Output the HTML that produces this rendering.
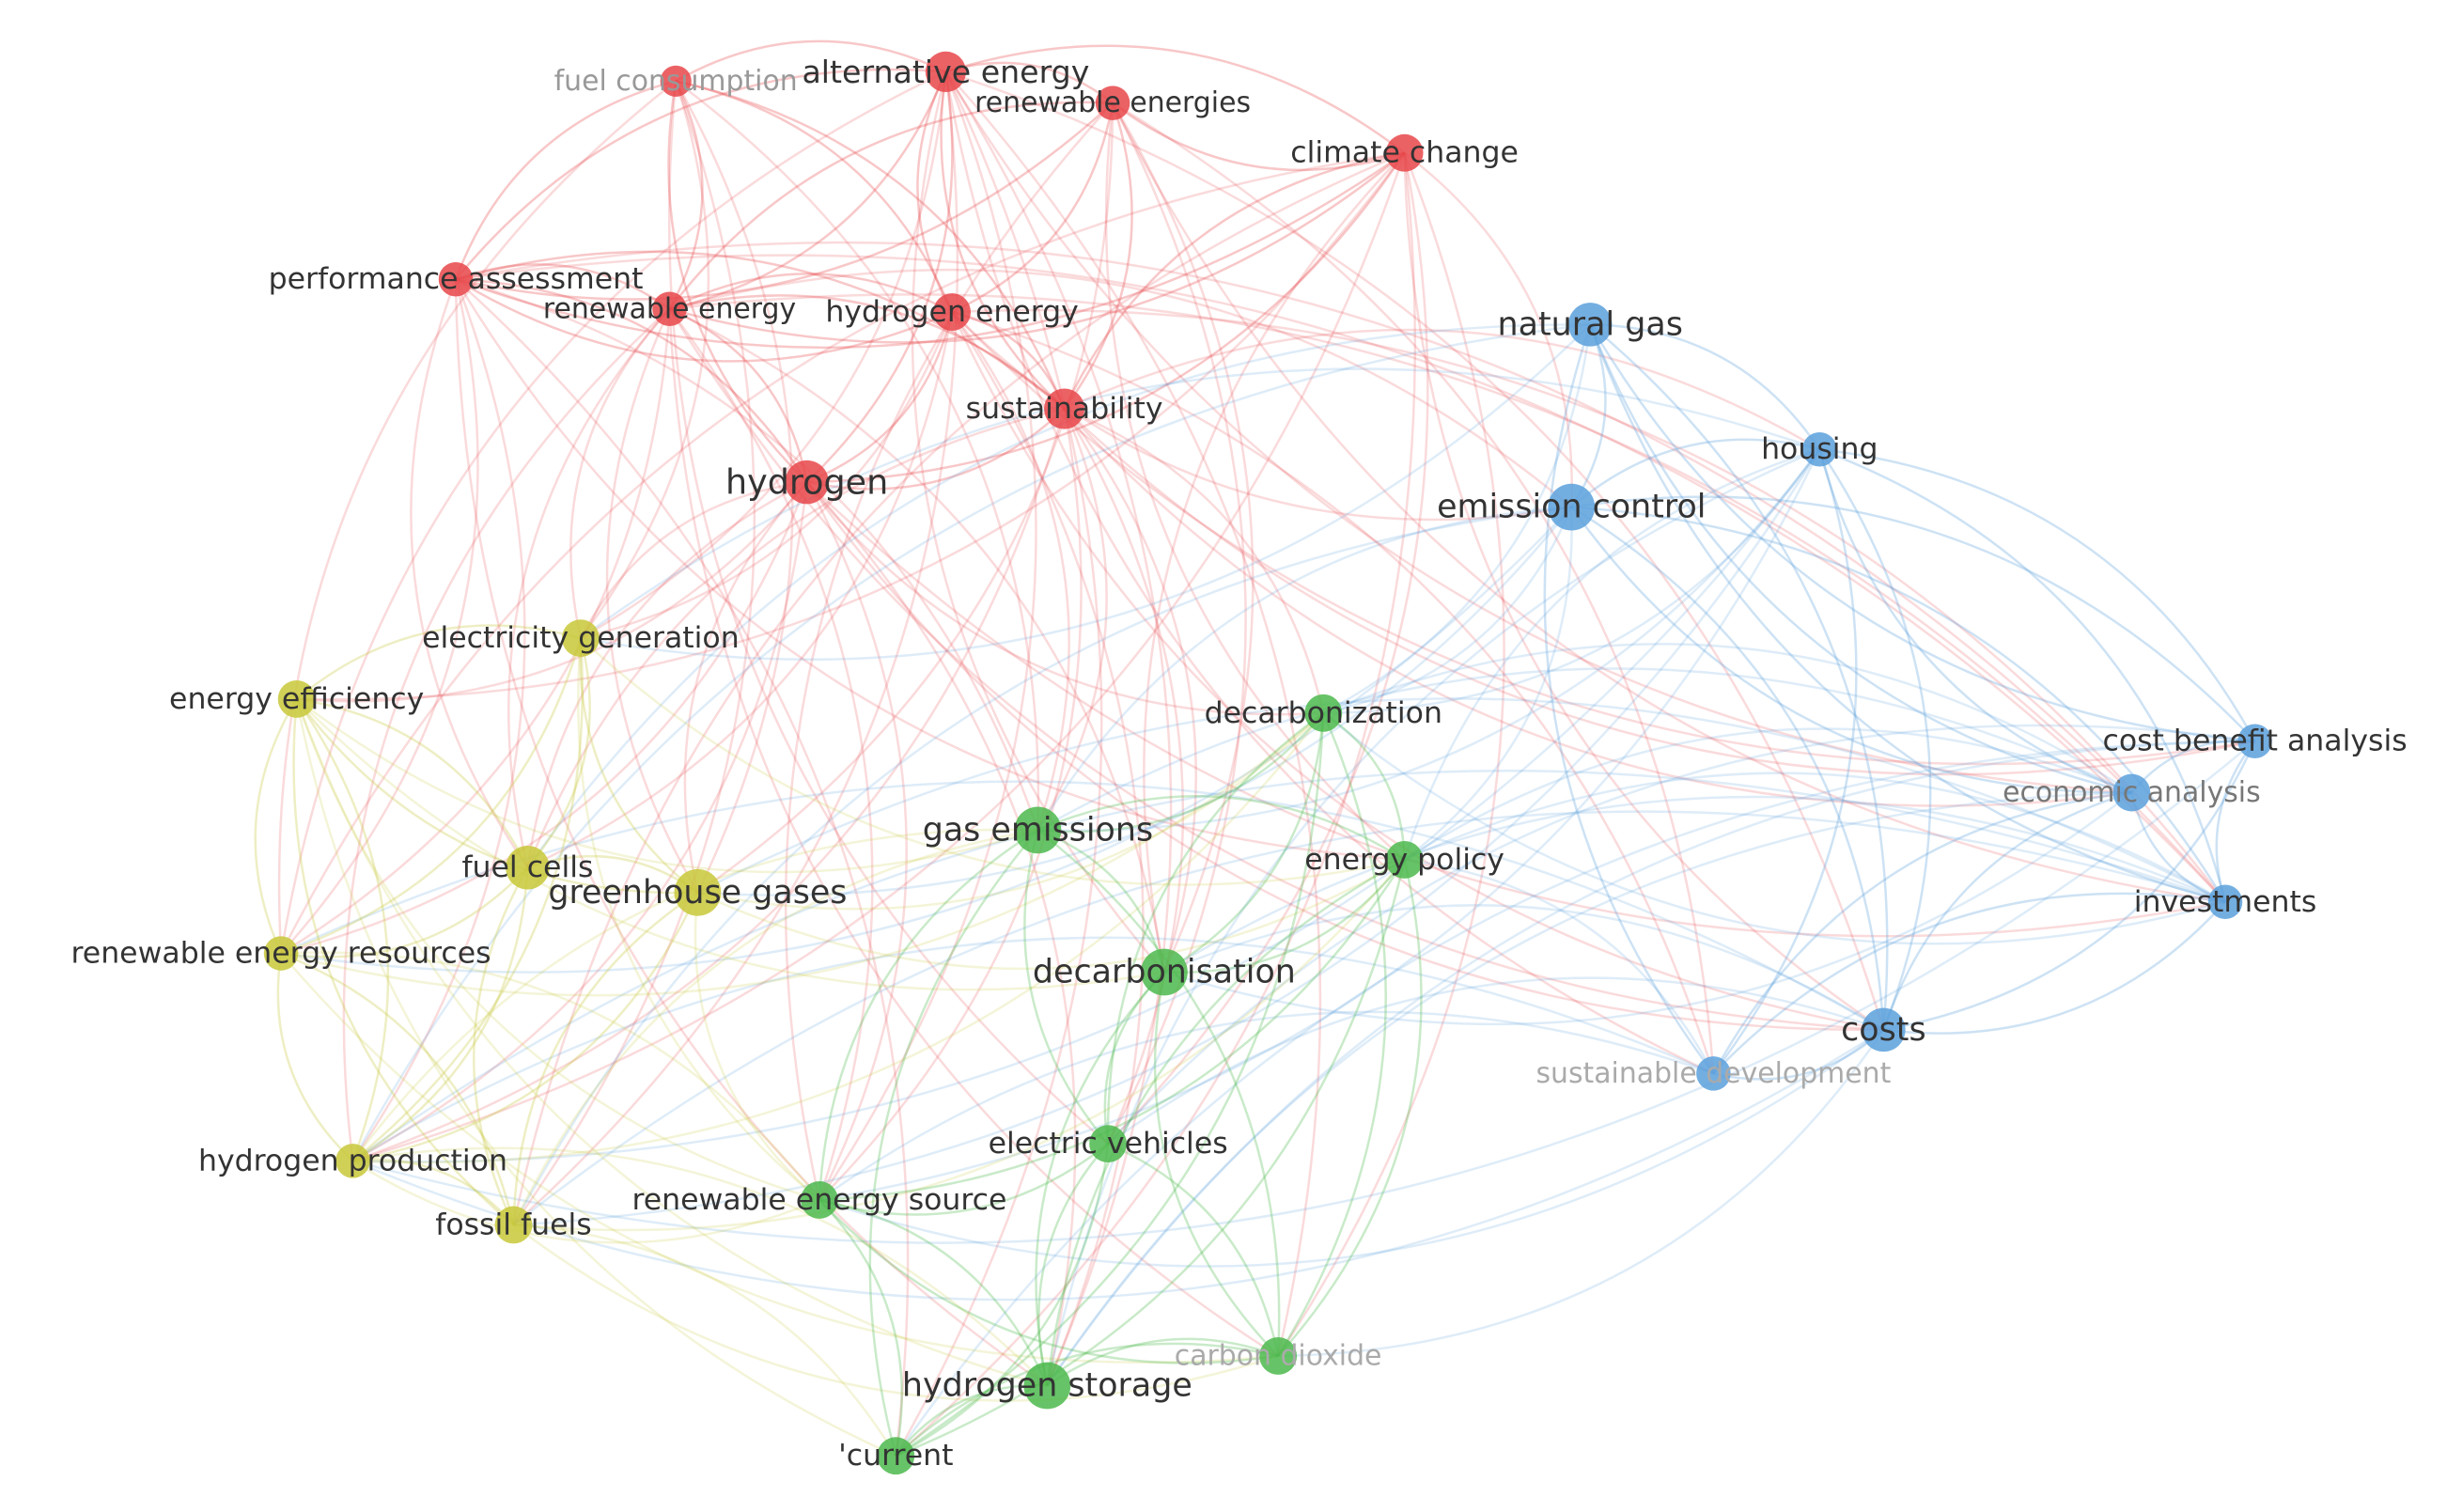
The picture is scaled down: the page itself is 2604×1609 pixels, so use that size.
<!DOCTYPE html>
<html><head><meta charset="utf-8">
<style>
html,body{margin:0;padding:0;background:#fff;}
svg{display:block;}
text{font-family:"DejaVu Sans","Liberation Sans",sans-serif;text-anchor:middle;dominant-baseline:central;}
</style></head>
<body>
<svg id="s" width="2604" height="1609" viewBox="0 0 1568 969" xmlns="http://www.w3.org/2000/svg">
<rect width="1568" height="969" fill="#fff"/>
<g id="edges" fill="none" stroke-width="1.5"></g>
<g id="nodes"></g>
<g id="labels"></g>
</svg>
<script>
var C={r:"#e8474a",b:"#5aa0dc",y:"#c8c83a",g:"#4cb84c"};
var N=[
["fuel consumption",433,52,10,"r",18,"#999"],
["alternative energy",606,46,13,"r",20,"#333"],
["renewable energies",713,66,11,"r",18,"#333"],
["climate change",900,98,12,"r",19,"#333"],
["performance assessment",292,179,11,"r",19,"#333"],
["renewable energy",429,198,11,"r",18,"#333"],
["hydrogen energy",610,200,12,"r",19,"#333"],
["sustainability",682,262,13,"r",19,"#333"],
["hydrogen",517,309,14,"r",22,"#333"],
["natural gas",1019,208,14,"b",21,"#333"],
["housing",1166,288,11,"b",19,"#333"],
["emission control",1007,325,15,"b",21,"#333"],
["cost benefit analysis",1445,475,11,"b",19,"#333"],
["economic analysis",1366,508,12,"b",18,"#777"],
["investments",1426,578,11,"b",19,"#333"],
["costs",1207,660,14,"b",21,"#333"],
["sustainable development",1098,688,11,"b",18,"#aaa"],
["electricity generation",372,409,12,"y",19,"#333"],
["energy efficiency",190,448,12,"y",19,"#333"],
["fuel cells",338,556,14,"y",19,"#333"],
["greenhouse gases",447,572,15,"y",21,"#333"],
["renewable energy resources",180,611,11,"y",19,"#333"],
["hydrogen production",226,744,11,"y",19,"#333"],
["fossil fuels",329,785,12,"y",19,"#333"],
["decarbonization",848,457,12,"g",19,"#333"],
["gas emissions",665,532,15,"g",21,"#333"],
["energy policy",900,551,12,"g",19,"#333"],
["decarbonisation",746,623,15,"g",21,"#333"],
["electric vehicles",710,733,12,"g",19,"#333"],
["renewable energy source",525,769,12,"g",19,"#333"],
["carbon dioxide",819,869,12,"g",18,"#aaa"],
["hydrogen storage",671,888,15,"g",21,"#333"],
["'current",574,933,12,"g",19,"#333"]
];
var ns="http://www.w3.org/2000/svg";
var E=document.getElementById("edges"),G=document.getElementById("nodes"),L=document.getElementById("labels");
function h(i,j){var x=(i*73856093)^(j*19349663);x=(x^(x>>>13))*1274126177;x=x^(x>>>16);return Math.abs(x)%100;}
for(var i=0;i<N.length;i++)for(var j=i+1;j<N.length;j++){
 var a=N[i],b=N[j],dx=b[1]-a[1],dy=b[2]-a[2],d=Math.sqrt(dx*dx+dy*dy);
 var p=(a[4]==b[4])?75:38; if(d<260)p+=30;
 if(h(i,j)>=p)continue;
 var mx=(a[1]+b[1])/2,my=(a[2]+b[2])/2,k=(h(j,i)%2?1:-1)*0.26;
 var cx=mx-dy*k,cy=my+dx*k;
 var pa=document.createElementNS(ns,"path");
 pa.setAttribute("d","M"+a[1]+","+a[2]+" Q"+cx+","+cy+" "+b[1]+","+b[2]);
 pa.setAttribute("stroke",C[a[4]]);
 pa.setAttribute("stroke-opacity",a[4]==b[4]?0.3:0.2);
 E.appendChild(pa);
}
N.forEach(function(n){
 var c=document.createElementNS(ns,"circle");
 c.setAttribute("cx",n[1]);c.setAttribute("cy",n[2]);c.setAttribute("r",n[3]);
 c.setAttribute("fill",C[n[4]]);c.setAttribute("fill-opacity",0.85);G.appendChild(c);
 var t=document.createElementNS(ns,"text");
 t.setAttribute("x",n[1]);t.setAttribute("y",n[2]);t.setAttribute("font-size",n[5]);
 t.setAttribute("fill",n[6]);t.textContent=n[0];L.appendChild(t);
});
</script>
</body></html>
